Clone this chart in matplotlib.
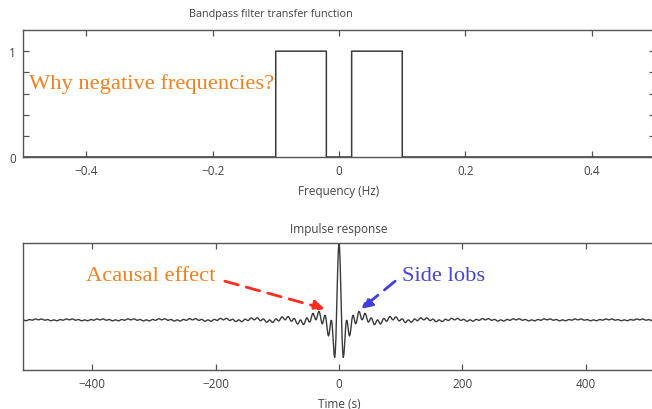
import numpy as np
import matplotlib
matplotlib.use("Agg")
import matplotlib.pyplot as plt

# band edges of the ideal bandpass filter (Hz)
band_lo = [-0.10, 0.02]
band_hi = [-0.02, 0.10]
n_samples = 1024  # dt = 1 s -> frequencies -0.5 .. 0.5 Hz

# transfer function on the FFT grid
freq = np.fft.fftshift(np.fft.fftfreq(n_samples))
H = np.zeros(n_samples)
for lo, hi in zip(band_lo, band_hi):
    H[(freq >= lo) & (freq <= hi)] = 1.0

# impulse response = inverse FFT of H
h = np.fft.fftshift(np.real(np.fft.ifft(np.fft.ifftshift(H))))
t = np.arange(n_samples) - n_samples // 2

plt.rcParams['font.family'] = ['Open Sans', 'DejaVu Sans']
plt.rcParams['font.size'] = 8.5
txt_col = '#444444'
line_col = '#3a3a3a'

fig = plt.figure(figsize=(6.52, 4.10), dpi=100)
W, Hpx = 652, 410

def ax_rect(x0, y0, x1, y1):
    return [x0 / W, 1 - y1 / Hpx, (x1 - x0) / W, (y1 - y0) / Hpx]

ax1 = fig.add_axes(ax_rect(23, 31, 655, 158))
ax2 = fig.add_axes(ax_rect(23, 244, 655, 371))

for ax in (ax1, ax2):
    for s in ax.spines.values():
        s.set_color('#555555')
        s.set_linewidth(1.0)
    ax.tick_params(direction='in', length=4, width=0.9, color='#555555',
                   labelcolor=txt_col, top=True, right=True, pad=5)

# top panel
ax1.plot(freq, H, color=line_col, lw=1.1, drawstyle='steps-mid')
ax1.set_xlim(-0.5, 0.5)
ax1.set_ylim(0, 1.2)
ax1.set_xticks([-0.4, -0.2, 0, 0.2, 0.4])
ax1.set_xticklabels(['\u22120.4', '\u22120.2', '0', '0.2', '0.4'])
ax1.set_yticks([0, 0.2, 0.4, 0.6, 0.8, 1.0])
ax1.set_yticklabels(['0', '', '', '', '', '1'])
ax1.set_xlabel('Frequency (Hz)', color=txt_col, labelpad=5)
fig.text(271 / W, 1 - 15 / Hpx, 'Bandpass filter transfer function',
         ha='center', va='center', color=txt_col, fontsize=7.8)
ax1.text(0.009, 0.58, 'Why negative frequencies?', transform=ax1.transAxes,
         family='Liberation Serif', fontsize=16.2, color='#f4801f',
         ha='left', va='center')

# bottom panel
ax2.plot(t, h, color=line_col, lw=1.0)
ax2.set_xlim(-512, 512)
ax2.set_ylim(-0.105, 0.161)
ax2.set_xticks([-400, -200, 0, 200, 400])
ax2.set_xticklabels(['\u2212400', '\u2212200', '0', '200', '400'])
ax2.set_yticks([])
ax2.set_xlabel('Time (s)', color=txt_col, labelpad=5)
ax2.set_title('Impulse response', color=txt_col, fontsize=8.5, pad=8)

ax2.annotate('', xy=(-23, 0.023), xytext=(-185, 0.081),
             arrowprops=dict(arrowstyle='-|>', linestyle=(0, (5, 3)),
                             color='#ff2d1e', lw=2, mutation_scale=16,
                             shrinkA=0, shrinkB=0))
ax2.text(-410, 0.092, 'Acausal effect', family='Liberation Serif',
         fontsize=16.2, color='#f4801f', ha='left', va='center')

ax2.annotate('', xy=(36, 0.023), xytext=(91, 0.081),
             arrowprops=dict(arrowstyle='-|>', linestyle=(0, (5, 3)),
                             color='#3f3fe0', lw=2, mutation_scale=16,
                             shrinkA=0, shrinkB=0))
ax2.text(102, 0.092, 'Side lobs', family='Liberation Serif',
         fontsize=16.2, color='#4646d8', ha='left', va='center')

fig.savefig('out.png', dpi=100)
